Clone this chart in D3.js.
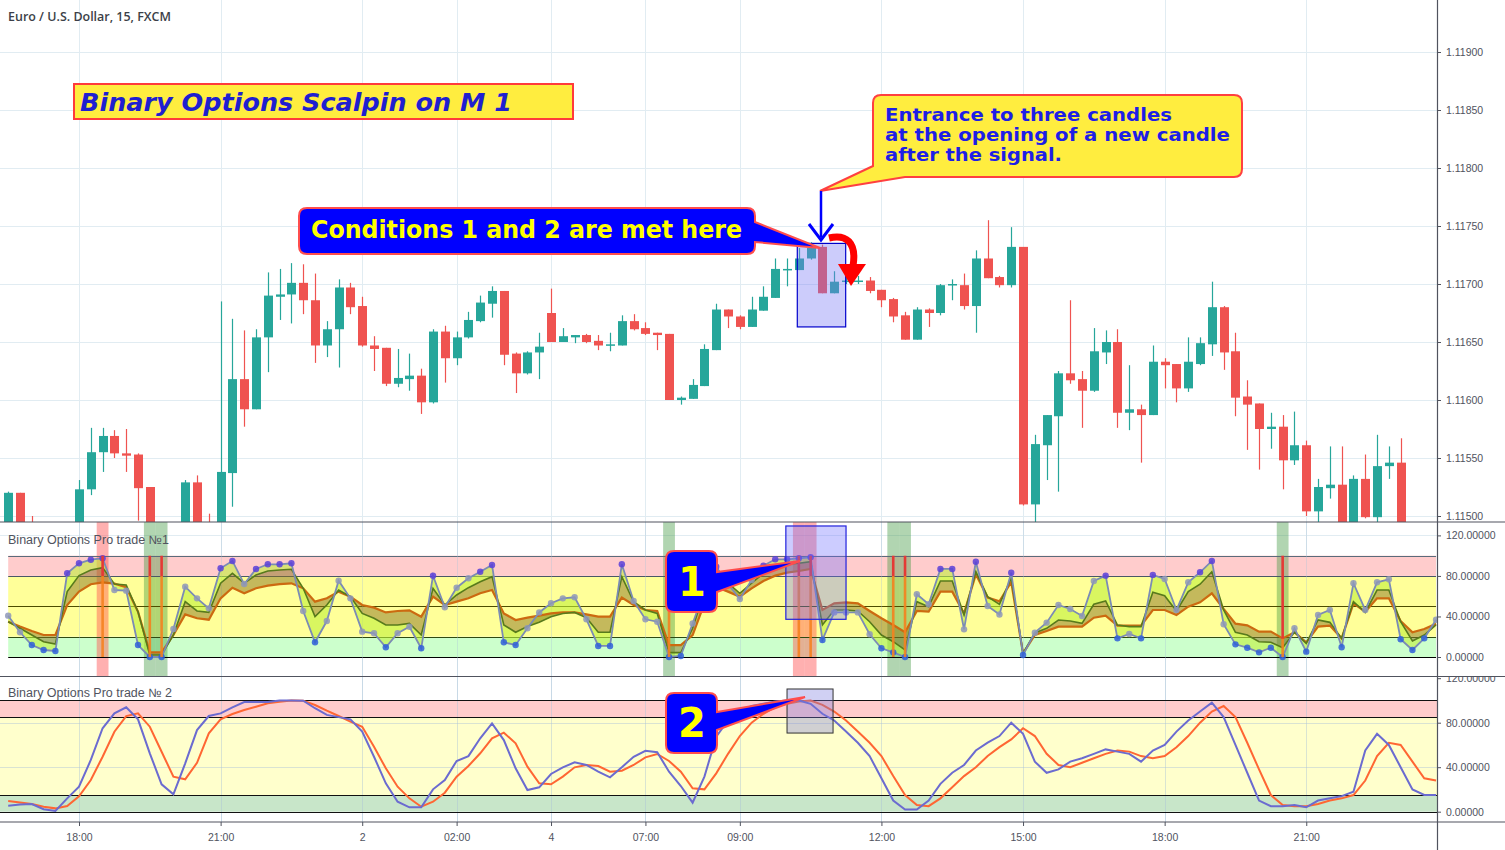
<!DOCTYPE html>
<html><head><meta charset="utf-8">
<script src="https://cdn.jsdelivr.net/npm/d3@7/dist/d3.min.js"></script>
<style>body{margin:0;background:#fff;}svg{display:block;font-family:"Liberation Sans",Arial,sans-serif;}</style>
</head><body><svg id="c" width="1505" height="850"></svg>
<script>
// ---------- DATA ----------
const open=[1.11488,1.11520,1.11487,1.11475,1.11470,1.11468,1.11488,1.11523,1.11555,1.11569,1.11554,1.11553,1.11525,1.11480,1.11478,1.11485,1.11529,1.11488,1.11484,1.11537,1.11618,1.11592,1.11654,1.11689,1.11691,1.11701,1.11686,1.11647,1.11661,1.11697,1.11681,1.11647,1.11645,1.11614,1.11618,1.11621,1.11598,1.11659,1.11636,1.11654,1.11668,1.11683,1.11694,1.11640,1.11623,1.11641,1.11675,1.11650,1.11654,1.11656,1.11651,1.11647,1.11647,1.11668,1.11662,1.11658,1.11657,1.11600,1.11601,1.11612,1.11643,1.11678,1.11672,1.11663,1.11677,1.11688,1.11712,1.11712,1.11722,1.11732,1.11692,1.11702,1.11703,1.11703,1.11695,1.11687,1.11673,1.11652,1.11678,1.11675,1.11699,1.11699,1.11681,1.11722,1.11706,1.11699,1.11732,1.11510,1.11561,1.11586,1.11623,1.11618,1.11608,1.11641,1.11650,1.11589,1.11592,1.11587,1.11633,1.11631,1.11610,1.11631,1.11648,1.11680,1.11642,1.11603,1.11597,1.11575,1.11577,1.11548,1.11561,1.11504,1.11524,1.11527,1.11488,1.11532,1.11499,1.11543,1.11546,1.11485,1.11478,1.11482];
const high=[1.11521,1.11520,1.11500,1.11485,1.11480,1.11492,1.11531,1.11576,1.11576,1.11574,1.11575,1.11554,1.11525,1.11490,1.11492,1.11531,1.11535,1.11502,1.11685,1.11670,1.11660,1.11661,1.11710,1.11713,1.11718,1.11717,1.11709,1.11668,1.11704,1.11701,1.11689,1.11655,1.11645,1.11644,1.11640,1.11627,1.11661,1.11664,1.11659,1.11676,1.11690,1.11698,1.11694,1.11641,1.11642,1.11658,1.11696,1.11662,1.11656,1.11657,1.11656,1.11658,1.11673,1.11674,1.11667,1.11658,1.11657,1.11603,1.11618,1.11648,1.11683,1.11678,1.11673,1.11689,1.11698,1.11722,1.11722,1.11731,1.11736,1.11734,1.11711,1.11706,1.11707,1.11706,1.11695,1.11688,1.11676,1.11680,1.11679,1.11700,1.11704,1.11709,1.11729,1.11755,1.11707,1.11749,1.11732,1.11570,1.11587,1.11625,1.11686,1.11625,1.11662,1.11660,1.11661,1.11630,1.11596,1.11647,1.11636,1.11631,1.11654,1.11654,1.11702,1.11681,1.11658,1.11617,1.11597,1.11589,1.11587,1.11590,1.11565,1.11532,1.11560,1.11560,1.11535,1.11553,1.11570,1.11560,1.11567,1.11490,1.11490,1.11492];
const low=[1.11485,1.11480,1.11465,1.11460,1.11460,1.11465,1.11483,1.11518,1.11538,1.11550,1.11538,1.11496,1.11475,1.11470,1.11472,1.11483,1.11482,1.11478,1.11480,1.11508,1.11577,1.11592,1.11624,1.11669,1.11666,1.11674,1.11632,1.11637,1.11628,1.11674,1.11646,1.11625,1.11612,1.11611,1.11608,1.11588,1.11597,1.11615,1.11630,1.11653,1.11667,1.11671,1.11630,1.11606,1.11622,1.11618,1.11650,1.11650,1.11649,1.11649,1.11643,1.11642,1.11647,1.11660,1.11656,1.11643,1.11600,1.11596,1.11601,1.11612,1.11643,1.11662,1.11661,1.11663,1.11677,1.11688,1.11698,1.11712,1.11721,1.11692,1.11692,1.11700,1.11700,1.11692,1.11680,1.11667,1.11652,1.11652,1.11663,1.11673,1.11686,1.11678,1.11658,1.11705,1.11697,1.11697,1.11509,1.11490,1.11531,1.11521,1.11614,1.11576,1.11607,1.11631,1.11576,1.11574,1.11546,1.11587,1.11610,1.11598,1.11607,1.11630,1.11638,1.11626,1.11586,1.11557,1.11540,1.11558,1.11523,1.11544,1.11500,1.11490,1.11515,1.11480,1.11485,1.11498,1.11488,1.11532,1.11480,1.11470,1.11472,1.11476];
const close=[1.11520,1.11487,1.11475,1.11470,1.11468,1.11488,1.11523,1.11555,1.11569,1.11554,1.11552,1.11524,1.11480,1.11478,1.11485,1.11529,1.11488,1.11484,1.11538,1.11618,1.11592,1.11654,1.11690,1.11691,1.11701,1.11686,1.11647,1.11661,1.11697,1.11680,1.11647,1.11644,1.11614,1.11619,1.11621,1.11598,1.11659,1.11636,1.11654,1.11669,1.11684,1.11694,1.11639,1.11623,1.11641,1.11646,1.11650,1.11655,1.11656,1.11650,1.11647,1.11648,1.11668,1.11661,1.11657,1.11656,1.11600,1.11602,1.11613,1.11644,1.11678,1.11672,1.11663,1.11678,1.11689,1.11713,1.11713,1.11722,1.11731,1.11692,1.11702,1.11703,1.11703,1.11694,1.11686,1.11672,1.11652,1.11678,1.11675,1.11699,1.11700,1.11681,1.11722,1.11705,1.11699,1.11732,1.11510,1.11562,1.11587,1.11623,1.11617,1.11608,1.11642,1.11650,1.11589,1.11592,1.11587,1.11633,1.11630,1.11610,1.11633,1.11649,1.11680,1.11641,1.11602,1.11596,1.11575,1.11577,1.11548,1.11561,1.11504,1.11525,1.11527,1.11488,1.11532,1.11499,1.11543,1.11546,1.11485,1.11478,1.11482,1.11488];

// indicator 1 (Binary Options Pro trade №1)
const fastLine=[40.8,24.4,11.8,6.9,5.9,82.6,92.5,96,97.4,66.1,65.5,11.8,0,0,27.6,69.4,57.9,48,87.6,94.8,72,86.9,91.5,91.5,92.5,45.4,14.5,35.5,75.3,57.9,25,23.4,9.6,23.4,29.9,8.6,80.3,49.1,68.4,77.7,84.2,90.8,14.5,11.8,28.3,44,53,57.9,58.9,37.2,10.9,10.9,91.5,55.3,37.2,34.8,0,1,33,65,89,72,57.3,76,90,96.4,96.4,97.4,98.4,16.8,44,44,44,22.4,8.6,4.6,0,61.9,52,86.9,86.9,27.3,94,50.3,42,83.2,2,24,33.9,51.3,47.4,40.5,75,80.3,18.4,22.7,18.4,81,77,46.4,73.7,83.6,94.8,32.3,12.5,9.2,4.6,9.2,0,28.3,5.3,41.5,46.4,9.6,72.8,46.4,73.7,76.7,17.5,6.9,18.4,36.8];
const midLine=[34.8,28.3,21.7,15.1,12.8,64.5,80.3,85.9,88.2,72,71,44.7,2,2,21.7,54.6,45.4,44,72.8,82.6,72.8,81,84.9,85.9,86.6,67.8,39.8,51.3,66.1,59.5,43,38.2,31.6,31.6,33.2,21.7,67.8,51.3,61.2,68.4,74.3,79.3,31.6,24.4,30,34.2,39.8,43,44,38.8,24.4,24.4,79.3,54.6,46.4,43,4.3,4.3,28.3,64.5,81,72.8,62.9,72.8,82.6,88.2,91.5,92.5,94,31.6,46.4,46.4,45.4,34.8,21.7,15.1,6.9,54.6,49.7,75,75,41.5,84.2,59.5,52,78,3.5,23.7,28.3,36.5,35.5,33.2,52,55.3,31.6,30,30,63.9,60.5,45.4,64.5,71.8,84.2,46.4,24.4,21.7,15.1,14.5,9.2,24.4,13.5,36.5,34.2,18.4,54.6,44,66.1,66.1,34.8,15.8,21.7,31.6];
const slowLine=[34.8,30,25.6,21.7,21.7,51.3,64.5,71.8,73.7,72.4,68.8,44.7,4.6,4.6,21.7,42.1,38.2,36.8,57.9,68.4,62.9,67.8,70.4,72,72.7,67.8,54.6,57.9,64.5,59.5,51.3,48.7,44,45.4,46,39.8,59.5,51.3,54.6,57.9,62.9,66.1,43,36.5,38.8,40.8,43,44,44,42,39.8,39.8,58.6,51.3,46.4,45.4,11.8,11.8,21.7,52.9,69.1,64.5,59.5,67.8,75,80.3,83.2,84.9,86.9,46.4,52.9,54,52.9,45.4,38.2,31.6,24.4,45.4,44.7,64.5,64.5,43,81.6,58.6,55,74,3.5,21.7,25.6,30,30,30,38.8,40.8,31,31,31,46.4,46.4,41.5,49.7,54,62.9,47.4,32.9,31.2,25,25,18.4,24.4,14.5,30,31,18.4,52.9,44.7,57.9,57.9,35.5,24.4,27.6,32.9];
const sellSignals=[8,67,68];
const buySignals=[12,13,56,75,76,108];
const signalSplit=[80,80,80,80,80,80,80,80,18]; // level where red part of the signal line ends (sell then buy order)

// indicator 2 (Binary Options Pro trade № 2)
const stochK=[5.4,6.5,6.9,2.2,0.6,12,22.5,46.5,75,88.4,93.8,83,52.5,24.6,15.6,43.5,73.4,86,88.4,93.8,98.6,98.6,98.6,100,100,99.8,93,87,85,83,72,49.4,25.5,9,3.9,3.9,20.1,28.5,45.6,50,66,79.4,64.4,39,19.5,21.9,33.9,39.9,44.4,42,36,30.9,39.9,49.4,54.8,53.4,36,23.1,8.1,31.5,67.4,82,90,95,97,99,100,100,97,88,82,72,62,50,30,10,2,2,10,25,35,42,55,62,68,80,70,45,35,38,45,48,52,56,54,52,45,55,60,72,82,90,98,85,60,35,10,5,5,6,4,10,12,14,18,55,70,60,40,20,15,15];
const stochD=[9.6,8.2,6.9,4.5,3,5.1,13.8,28.5,49.4,71.9,86,88.4,76.4,53.9,31.5,29.1,44,70.5,83,87.8,91.4,94.4,97.4,98.9,100,99.8,95.9,90.8,86,80.9,76.4,58.4,39,22.5,12,4.5,9,17.1,31.5,41.1,52.5,66,71,61.5,40.5,25.5,24.6,31.5,39.9,42,41.1,36,36.9,42,48.9,51.9,45.6,36,21,20.1,34.5,52,68,80,88,94,97,99,100,96,90,82,72,62,50,32,15,6,5,12,22,32,40,50,58,65,75,68,52,42,40,44,48,52,55,54,50,48,50,58,68,80,90,95,85,62,38,15,6,5,5,7,10,12,15,28,50,62,60,45,30,28];

const timeTickIdx=[6,18,30,38,46,54,62,74,86,98,110];
const timeTickLabels=["18:00","21:00","2","02:00","4","07:00","09:00","12:00","15:00","18:00","21:00"];
const priceTicks=[1.115,1.1155,1.116,1.1165,1.117,1.1175,1.118,1.1185,1.119];
const oscTicks=[0,40,80,120];
const bands1=[[0,20,"#ccffcc"],[20,80,"#ffff99"],[80,100,"#ffcccc"]];
const levels1=[[0,"#000"],[20,"#2f4a10"],[50,"#4d4d00"],[80,"#4a5866"],[100,"#5a6b7b"]];
const bands2=[[0,15,"#c8e6c9"],[15,85,"#ffffcc"],[85,100,"#ffcccc"]];
const levels2=[0,15,85,100];

// ---------- LAYOUT ----------
const W=1505,PR=1437;
const svg=d3.select("#c");
const x=d3.scaleLinear().domain([-0.695,121.08]).range([0,PR]);
const yP=d3.scaleLinear().domain([1.1149483,1.1194483]).range([522,0]);
const y1=d3.scaleLinear().domain([0,120]).range([657,535.4]);
const y2=d3.scaleLinear().domain([0,120]).range([811.7,678.2]);
const idx=d3.range(open.length);
const UP="#26a69a",DN="#ef5350",GRID="#e1ecf2";

const defs=svg.append("defs");
defs.append("clipPath").attr("id","cP").append("rect").attr("x",0).attr("y",0).attr("width",PR).attr("height",522);
defs.append("clipPath").attr("id","c1").append("rect").attr("x",0).attr("y",522).attr("width",PR).attr("height",154.5);
defs.append("clipPath").attr("id","c2").append("rect").attr("x",0).attr("y",677).attr("width",PR).attr("height",145);
defs.append("clipPath").attr("id","cA2").append("rect").attr("x",PR).attr("y",677).attr("width",W-PR).attr("height",145);

svg.append("rect").attr("width",W).attr("height",850).attr("fill","#fff");

// grid
const g0=svg.append("g");
g0.selectAll("line.h").data(priceTicks).join("line").attr("x1",0).attr("x2",PR)
  .attr("y1",d=>Math.round(yP(d))+0.5).attr("y2",d=>Math.round(yP(d))+0.5).attr("stroke",GRID);
g0.selectAll("line.v").data(timeTickIdx).join("line").attr("y1",0).attr("y2",822)
  .attr("x1",d=>Math.round(x(d))+0.5).attr("x2",d=>Math.round(x(d))+0.5).attr("stroke",GRID);
g0.append("line").attr("x1",0).attr("x2",PR).attr("y1",Math.round(y1(120))+0.5).attr("y2",Math.round(y1(120))+0.5).attr("stroke",GRID);

// candles
const gc=svg.append("g").attr("clip-path","url(#cP)");
gc.selectAll("line").data(idx).join("line")
  .attr("x1",i=>Math.round(x(i))+0.5).attr("x2",i=>Math.round(x(i))+0.5)
  .attr("y1",i=>yP(high[i])).attr("y2",i=>yP(low[i]))
  .attr("stroke",i=>close[i]>=open[i]?UP:DN).attr("stroke-width",1.2);
gc.selectAll("rect").data(idx).join("rect")
  .attr("x",i=>Math.round(x(i))-4).attr("width",9)
  .attr("y",i=>yP(Math.max(open[i],close[i])))
  .attr("height",i=>Math.max(1.5,Math.abs(yP(open[i])-yP(close[i]))))
  .attr("fill",i=>close[i]>=open[i]?UP:DN);
// highlight box on price
gc.append("rect").attr("x",x(66.87)).attr("width",x(70.97)-x(66.87))
  .attr("y",yP(1.11735)).attr("height",yP(1.11663)-yP(1.11735))
  .attr("fill","rgba(120,120,245,0.38)").attr("stroke","#0000cc").attr("stroke-width",1.2);

// ---------- pane 1 ----------
const g1=svg.append("g").attr("clip-path","url(#c1)");
bands1.forEach(b=>g1.append("rect").attr("x",x(0)).attr("width",x(121)-x(0))
  .attr("y",y1(b[1])).attr("height",y1(b[0])-y1(b[1])).attr("fill",b[2]));
const slot=x(1)-x(0);
g1.selectAll("rect.s").data(sellSignals).join("rect").attr("x",i=>x(i)-slot/2).attr("width",slot)
  .attr("y",522).attr("height",154).attr("fill","rgba(255,80,80,0.45)");
g1.selectAll("rect.b").data(buySignals).join("rect").attr("x",i=>x(i)-slot/2).attr("width",slot)
  .attr("y",522).attr("height",154).attr("fill","rgba(60,150,60,0.4)");
levels1.forEach(l=>g1.append("line").attr("x1",x(0)).attr("x2",x(121))
  .attr("y1",Math.round(y1(l[0]))+0.5).attr("y2",Math.round(y1(l[0]))+0.5).attr("stroke",l[1]).attr("stroke-width",1.2));
g1.selectAll("line.v").data(timeTickIdx).join("line").attr("y1",522).attr("y2",676)
  .attr("x1",d=>Math.round(x(d))+0.5).attr("x2",d=>Math.round(x(d))+0.5).attr("stroke","rgba(170,195,215,0.35)");
const ar1=d3.area().x(i=>x(i)).y0(i=>y1(midLine[i])).y1(i=>y1(fastLine[i]));
const ar2=d3.area().x(i=>x(i)).y0(i=>y1(slowLine[i])).y1(i=>y1(midLine[i]));
g1.append("path").datum(idx).attr("d",ar1).attr("fill","#bff03a").attr("fill-opacity",0.6);
g1.append("path").datum(idx).attr("d",ar2).attr("fill","#8a7420").attr("fill-opacity",0.5);
const ln=(arr,yy)=>d3.line().x(i=>x(i)).y(i=>yy(arr[i]));
g1.append("path").datum(idx).attr("d",ln(slowLine,y1)).attr("fill","none").attr("stroke","#cc6a10").attr("stroke-width",2.2);
g1.append("path").datum(idx).attr("d",ln(midLine,y1)).attr("fill","none").attr("stroke","#587a1c").attr("stroke-width",1.6);
g1.append("path").datum(idx).attr("d",ln(fastLine,y1)).attr("fill","none").attr("stroke","#7b8bb5").attr("stroke-width",1.8);
g1.selectAll("circle").data(idx).join("circle").attr("cx",i=>x(i)).attr("cy",i=>y1(fastLine[i])).attr("r",3.2)
  .attr("fill",i=>fastLine[i]>=80?"#5a3fd8":(fastLine[i]<=20?"#2f5fd8":"#8e98b8")).attr("fill-opacity",0.85);
const sigs=sellSignals.concat(buySignals);
sigs.forEach((s,k)=>{
  g1.append("line").attr("x1",x(s)).attr("x2",x(s)).attr("y1",y1(100)).attr("y2",y1(signalSplit[k])).attr("stroke","#e53935").attr("stroke-width",2.6);
  g1.append("line").attr("x1",x(s)).attr("x2",x(s)).attr("y1",y1(signalSplit[k])).attr("y2",y1(0)).attr("stroke","#f5821f").attr("stroke-width",2.6).attr("stroke-opacity",0.9);
});
g1.append("rect").attr("x",x(65.9)).attr("width",x(71)-x(65.9)).attr("y",y1(129.3)).attr("height",y1(37.2)-y1(129.3))
  .attr("fill","rgba(110,110,255,0.35)").attr("stroke","#2222dd").attr("stroke-width",1.2);

// ---------- pane 2 ----------
const g2=svg.append("g").attr("clip-path","url(#c2)");
bands2.forEach(b=>g2.append("rect").attr("x",0).attr("width",PR)
  .attr("y",y2(b[1])).attr("height",y2(b[0])-y2(b[1])).attr("fill",b[2]));
[40,80].forEach(v=>g2.append("line").attr("x1",0).attr("x2",PR).attr("y1",Math.round(y2(v))+0.5).attr("y2",Math.round(y2(v))+0.5).attr("stroke","rgba(180,200,215,0.5)"));
g2.selectAll("line.v").data(timeTickIdx).join("line").attr("y1",677).attr("y2",822)
  .attr("x1",d=>Math.round(x(d))+0.5).attr("x2",d=>Math.round(x(d))+0.5).attr("stroke","rgba(170,195,215,0.45)");
levels2.forEach(l=>g2.append("line").attr("x1",0).attr("x2",PR).attr("y1",Math.round(y2(l))+0.5).attr("y2",Math.round(y2(l))+0.5).attr("stroke","#111").attr("stroke-width",1.2));
g2.append("path").datum(idx).attr("d",ln(stochD,y2)).attr("fill","none").attr("stroke","#ff6633").attr("stroke-width",2);
g2.append("path").datum(idx).attr("d",ln(stochK,y2)).attr("fill","none").attr("stroke","#6b6bd0").attr("stroke-width",2);
g2.append("rect").attr("x",x(66)).attr("width",x(69.9)-x(66)).attr("y",y2(110.3)).attr("height",y2(70.7)-y2(110.3))
  .attr("fill","rgba(120,120,220,0.35)").attr("stroke","#333").attr("stroke-width",1);

// ---------- axes ----------
const axStyle=g=>{g.select(".domain").remove();g.selectAll("line").attr("stroke","#50535e");
  g.selectAll("text").attr("fill","#50535e").style("font-size","10.5px").style("font-family","'Liberation Sans',Arial,sans-serif");};
svg.append("g").attr("transform",`translate(${PR},0)`).call(d3.axisRight(yP).tickValues(priceTicks).tickFormat(d3.format(".5f")).tickSize(4).tickPadding(5)).call(axStyle);
svg.append("g").attr("transform",`translate(${PR},0)`).call(d3.axisRight(y1).tickValues(oscTicks).tickFormat(d3.format(".5f")).tickSize(4).tickPadding(5)).call(axStyle);
svg.append("g").attr("clip-path","url(#cA2)").append("g").attr("transform",`translate(${PR},0)`).call(d3.axisRight(y2).tickValues(oscTicks).tickFormat(d3.format(".5f")).tickSize(4).tickPadding(5)).call(axStyle);
svg.append("g").attr("transform","translate(0,822)").call(d3.axisBottom(x).tickValues(timeTickIdx).tickFormat((d,k)=>timeTickLabels[k]).tickSize(4).tickPadding(8)).call(axStyle);
[522,676.5,822].forEach(yy=>svg.append("line").attr("x1",0).attr("x2",W).attr("y1",yy).attr("y2",yy).attr("stroke","#50535e").attr("stroke-width",1.2));
svg.append("line").attr("x1",PR+0.5).attr("x2",PR+0.5).attr("y1",0).attr("y2",850).attr("stroke","#50535e").attr("stroke-width",1.2);

// ---------- texts ----------
svg.append("text").attr("x",8).attr("y",21).text("Euro / U.S. Dollar, 15, FXCM")
  .attr("fill","#3c3f48").style("font-family","'Open Sans',sans-serif").style("font-size","12.5px").style("font-weight",600).attr("textLength",163).attr("lengthAdjust","spacingAndGlyphs");
svg.append("text").attr("x",8).attr("y",544).text("Binary Options Pro trade №1").attr("fill","#50535e").style("font-size","12px").attr("textLength",161).attr("lengthAdjust","spacingAndGlyphs");
svg.append("text").attr("x",8).attr("y",697).text("Binary Options Pro trade № 2").attr("fill","#50535e").style("font-size","12px").attr("textLength",164).attr("lengthAdjust","spacingAndGlyphs");

// ---------- annotations ----------
const an=svg.append("g");
an.append("rect").attr("x",74).attr("y",84).attr("width",499).attr("height",35).attr("fill","#ffed3f").attr("stroke","#ff3b3b").attr("stroke-width",2);
an.append("text").attr("x",80).attr("y",111).text("Binary Options Scalpin on M 1").attr("fill","#1f1fd0")
  .style("font-family","'DejaVu Sans',sans-serif").style("font-weight","bold").style("font-style","italic").style("font-size","25px").attr("textLength",432).attr("lengthAdjust","spacingAndGlyphs");

an.append("path").attr("d","M881 95 H1234 Q1242 95 1242 103 V169 Q1242 177 1234 177 H905 L820 191 L873 166 V103 Q873 95 881 95 Z")
  .attr("fill","#ffed3f").attr("stroke","#ff4040").attr("stroke-width",2);
[["Entrance to three candles",121,287],["at the opening of a new candle",141,345],["after the signal.",161,177]].forEach(t=>
  an.append("text").attr("x",885).attr("y",t[1]).text(t[0]).attr("fill","#1e1ee6").style("font-family","'DejaVu Sans',sans-serif")
    .style("font-weight","bold").style("font-size","17.5px").attr("textLength",t[2]).attr("lengthAdjust","spacingAndGlyphs"));

an.append("path").attr("d","M821 191 V237").attr("stroke","#0000ff").attr("stroke-width",2.5).attr("fill","none");
an.append("path").attr("d","M809 224 L821 240 L833 224").attr("stroke","#0000ff").attr("stroke-width",3).attr("fill","none");

an.append("path").attr("d","M829 238 C846 234 857 242 853 266").attr("stroke","#ff0000").attr("stroke-width",7).attr("fill","none");
an.append("path").attr("d","M838 264 L866 264 L851 286 Z").attr("fill","#ff0000");

an.append("path").attr("d","M307 208 H747 Q755 208 755 216 V222 L820 248 L755 242 V246 Q755 254 747 254 H307 Q299 254 299 246 V216 Q299 208 307 208 Z")
  .attr("fill","#0000ff").attr("stroke","#ff4d4d").attr("stroke-width",2);
an.append("text").attr("x",311).attr("y",238).text("Conditions 1 and 2 are met here").attr("fill","#ffff00")
  .style("font-family","'DejaVu Sans',sans-serif").style("font-weight","bold").style("font-size","25px").attr("textLength",431).attr("lengthAdjust","spacingAndGlyphs");

an.append("path").attr("d","M674 551 H709 Q717 551 717 559 V572 L800 561 L717 592 V604 Q717 612 709 612 H674 Q666 612 666 604 V559 Q666 551 674 551 Z")
  .attr("fill","#0000ff").attr("stroke","#ff4d4d").attr("stroke-width",2);
an.append("text").attr("x",692).attr("y",596).attr("text-anchor","middle").text("1").attr("fill","#ffff00")
  .style("font-family","'DejaVu Sans',sans-serif").style("font-weight","bold").style("font-size","40px");
an.append("path").attr("d","M674 693 H709 Q717 693 717 701 V712 L805 697 L717 730 V745 Q717 753 709 753 H674 Q666 753 666 745 V701 Q666 693 674 693 Z")
  .attr("fill","#0000ff").attr("stroke","#ff4d4d").attr("stroke-width",2);
an.append("text").attr("x",692).attr("y",737).attr("text-anchor","middle").text("2").attr("fill","#ffff00")
  .style("font-family","'DejaVu Sans',sans-serif").style("font-weight","bold").style("font-size","40px");
</script></body></html>
